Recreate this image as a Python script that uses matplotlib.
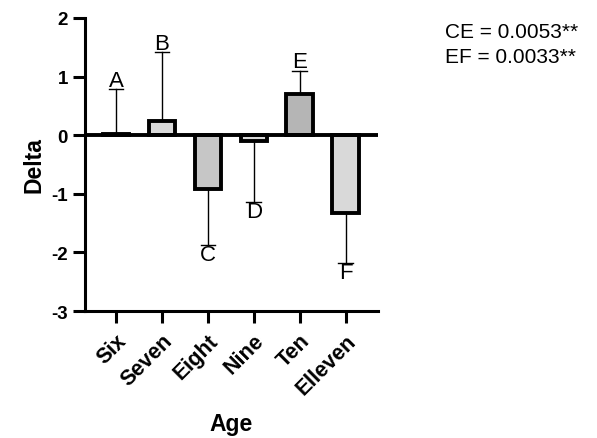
import matplotlib
matplotlib.use("Agg")
import matplotlib.pyplot as plt
from matplotlib.transforms import ScaledTranslation

plt.rcParams["font.family"] = ["Liberation Sans", "DejaVu Sans"]
plt.rcParams["axes.unicode_minus"] = False

# ---------------------------------------------------------------- data
ages = ["Six", "Seven", "Eight", "Nine", "Ten", "Elleven"]
delta = [0.02, 0.24, -0.92, -0.10, 0.70, -1.32]
err = [0.76, 1.17, 0.95, 1.04, 0.40, 0.86]
letters = ["A", "B", "C", "D", "E", "F"]
colors = ["#d9d9d9", "#d9d9d9", "#c6c6c6", "#d9d9d9", "#b5b5b5", "#d9d9d9"]
stats = ["CE = 0.0053**", "EF = 0.0033**"]

fig = plt.figure(figsize=(5.97, 4.39), dpi=100)
ax = fig.add_axes([0.142, 0.289, 0.491, 0.668])

xs = list(range(len(ages)))
ax.bar(xs, delta, width=0.58, color=colors, edgecolor="black", linewidth=2.8,
       zorder=3)

# one-sided error bars pointing away from zero
for x, d, e, lab in zip(xs, delta, err, letters):
    end = d + e if d >= 0 else d - e
    ax.plot([x, x], [d, end], color="black", lw=1.0, zorder=2)
    ax.plot([x - 0.16, x + 0.16], [end, end], color="black", lw=1.0, zorder=2)
    if d >= 0:
        ax.text(x, end - 0.02, lab, ha="center", va="bottom", fontsize=16)
    else:
        ax.text(x, end + 0.02, lab, ha="center", va="top", fontsize=16)

ax.axhline(0, color="black", lw=2.8, zorder=4)

ax.set_xlim(-0.68, 5.7)
ax.set_ylim(-3, 2)
ax.set_yticks([-3, -2, -1, 0, 1, 2])
ax.set_xticks(xs)
ax.set_xticklabels(ages, rotation=45, ha="right", rotation_mode="anchor",
                   fontsize=15.5, fontweight="bold")
# nudge the slanted labels a little to the right of their ticks
shift = ScaledTranslation(4 / 72, 0, fig.dpi_scale_trans)
for t in ax.get_xticklabels():
    t.set_transform(t.get_transform() + shift)
for t in ax.get_yticklabels():
    t.set_fontsize(13.5)
    t.set_fontweight("bold")

ax.spines["top"].set_visible(False)
ax.spines["right"].set_visible(False)
ax.spines["left"].set_linewidth(2.2)
ax.spines["bottom"].set_linewidth(2.2)
ax.tick_params(axis="both", length=8.5, width=2.2, direction="out")
ax.tick_params(axis="x", pad=5)

ax.set_ylabel("Delta", fontsize=16.5, fontweight="bold", labelpad=4)
ax.set_xlabel("Age", fontsize=16.5, fontweight="bold", labelpad=10)

fig.text(0.745, 0.925, stats[0], fontsize=15, va="center")
fig.text(0.745, 0.870, stats[1], fontsize=15, va="center")

fig.savefig("out.png", dpi=100)
